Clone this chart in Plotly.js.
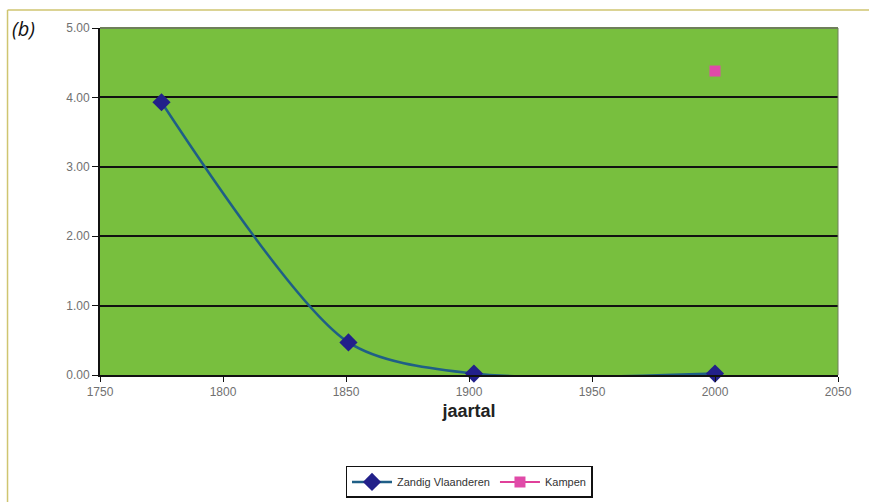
<!DOCTYPE html>
<html><head><meta charset="utf-8">
<script src="https://cdn.plot.ly/plotly-3.0.1.min.js"></script>
<style>html,body{margin:0;padding:0;background:#fff}#c{width:869px;height:502px}</style>
</head><body><div id="c"></div>
<script>
const zvYears = [1775, 1851, 1902, 2000];
const zvValues = [3.93, 0.47, 0.02, 0.02];
const kampenYears = [2000];
const kampenValues = [4.38];
const xTicks = [1750, 1800, 1850, 1900, 1950, 2000, 2050];
const yTicks = [0, 1, 2, 3, 4, 5];
const yTickLabels = ["0.00", "1.00", "2.00", "3.00", "4.00", "5.00"];

const traces = [
  {x: zvYears, y: zvValues, name: "Zandig Vlaanderen", type: "scatter", mode: "lines+markers",
   line: {color: "#1f5f86", width: 2.5, shape: "spline", smoothing: 0.8},
   marker: {symbol: "diamond", size: 14, color: "#22208a"}, cliponaxis: false},
  {x: kampenYears, y: kampenValues, name: "Kampen", type: "scatter", mode: "lines+markers",
   line: {color: "#e0409a", width: 2},
   marker: {symbol: "square", size: 11, color: "#e04aa8"}}
];

const layout = {
  width: 869, height: 502,
  margin: {l: 100, r: 31, t: 28, b: 127, autoexpand: false},
  paper_bgcolor: "#ffffff",
  plot_bgcolor: "#78bf3e",
  font: {family: "Liberation Sans, Arial, sans-serif", color: "#555"},
  xaxis: {range: [1750, 2050], tickvals: xTicks, ticktext: xTicks.map(String),
    showgrid: false, zeroline: false, showline: true, linecolor: "#111", linewidth: 2,
    ticks: "outside", ticklen: 5, tickcolor: "#111", tickfont: {size: 12, color: "#707070"},
    title: {text: "<b>jaartal</b>", font: {size: 18, color: "#222", family: "Liberation Sans, Arial"}, standoff: 6}},
  yaxis: {range: [0, 5], tickvals: yTicks, ticktext: yTickLabels,
    showgrid: true, gridcolor: "#111", gridwidth: 2, zeroline: false,
    showline: true, linecolor: "#111", linewidth: 2,
    ticks: "outside", ticklen: 6, tickcolor: "#111", tickfont: {size: 12, color: "#707070"}},
  showlegend: true,
  legend: {orientation: "h", x: 0.5, xanchor: "center", yref: "container", y: 0.04, yanchor: "middle",
    bordercolor: "#111", borderwidth: 1.5, bgcolor: "#fff",
    font: {size: 11, color: "#333"}, itemwidth: 40},
  shapes: [
    {type: "line", xref: "paper", yref: "paper", x0: 0, x1: 1, y0: 1, y1: 1, line: {color: "#6f7f5a", width: 2}},
    {type: "line", xref: "paper", yref: "paper", x0: 1, x1: 1, y0: 0, y1: 1, line: {color: "#6f7f5a", width: 1}},
    {type: "line", xref: "paper", yref: "paper", x0: -0.1253, x1: 1.042, y0: 1.0519, y1: 1.0519, line: {color: "#cfc570", width: 1.5}},
    {type: "line", xref: "paper", yref: "paper", x0: -0.1253, x1: -0.1253, y0: 1.0519, y1: -0.37, line: {color: "#cfc570", width: 1.5}}
  ],
  annotations: [
    {text: "<i>(b)</i>", xref: "paper", yref: "paper", x: -0.122, y: 1.0, xanchor: "left", yanchor: "middle",
     showarrow: false, font: {size: 20, color: "#111", family: "Open Sans, Arial"}}
  ]
};

Plotly.newPlot("c", traces, layout, {displayModeBar: false, staticPlot: true});
</script></body></html>
